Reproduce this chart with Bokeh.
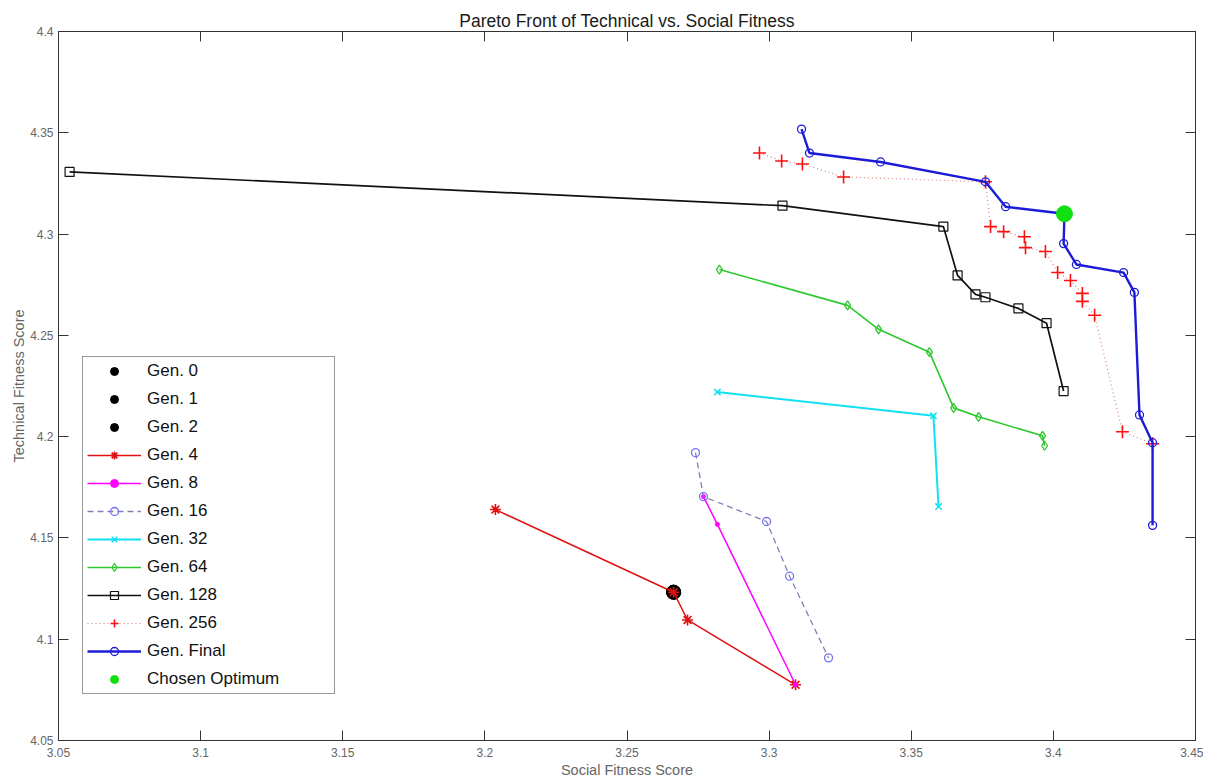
from bokeh.plotting import figure
from bokeh.models import Range1d, LinearAxis, FixedTicker, CustomJSTickFormatter
from bokeh.embed import file_html
from bokeh.resources import INLINE

# ---- axis ticks ----
x_ticks = [3.05, 3.1, 3.15, 3.2, 3.25, 3.3, 3.35, 3.4, 3.45]
x_tick_labels = ["3.05", "3.1", "3.15", "3.2", "3.25", "3.3", "3.35", "3.4", "3.45"]
y_ticks = [4.05, 4.1, 4.15, 4.2, 4.25, 4.3, 4.35, 4.4]
y_tick_labels = ["4.05", "4.1", "4.15", "4.2", "4.25", "4.3", "4.35", "4.4"]

# ---- series (social fitness x, technical fitness y) ----
gen0_x = [3.2664]; gen0_y = [4.1232]
gen1_x = [3.2664]; gen1_y = [4.1232]
gen2_x = [3.2664]; gen2_y = [4.1232]

gen4_x = [3.2037, 3.2664, 3.2713, 3.3093]
gen4_y = [4.1640, 4.1232, 4.1095, 4.0775]

gen8_x = [3.2769, 3.2818, 3.3093]
gen8_y = [4.1704, 4.1567, 4.0775]

gen16_x = [3.2741, 3.2769, 3.2991, 3.3072, 3.3209]
gen16_y = [4.1921, 4.1704, 4.1581, 4.1311, 4.0908]

gen32_x = [3.2818, 3.3578, 3.3596]
gen32_y = [4.2220, 4.2103, 4.1655]

gen64_x = [3.2825, 3.3276, 3.3385, 3.3564, 3.3649, 3.3737, 3.3962, 3.3969]
gen64_y = [4.2825, 4.2648, 4.2530, 4.2417, 4.2142, 4.2098, 4.2004, 4.1955]

gen128_x = [3.0539, 3.3047, 3.3613, 3.3663, 3.3726, 3.3761, 3.3877, 3.3976, 3.4036]
gen128_y = [4.3307, 4.3140, 4.3037, 4.2796, 4.2702, 4.2688, 4.2633, 4.2560, 4.2225]

gen256_x = [3.2966, 3.3044, 3.3117, 3.3262, 3.3761, 3.3779, 3.3825, 3.3898, 3.3902,
            3.3972, 3.4015, 3.4060, 3.4102, 3.4102, 3.4145, 3.4243, 3.4349]
gen256_y = [4.3400, 4.3361, 4.3346, 4.3282, 4.3258, 4.3037, 4.3012, 4.2987, 4.2933,
            4.2914, 4.2810, 4.2771, 4.2707, 4.2668, 4.2599, 4.2024, 4.1965]

final_x = [3.3114, 3.3142, 3.3392, 3.3761, 3.3832, 3.4039, 3.4036, 3.4081, 3.4247,
           3.4285, 3.4303, 3.4349, 3.4349]
final_y = [4.3518, 4.3400, 4.3356, 4.3258, 4.3135, 4.3100, 4.2953, 4.2850, 4.2810,
           4.2712, 4.2107, 4.1970, 4.1562]

chosen_x = [3.4039]; chosen_y = [4.3100]

FONT = "Liberation Sans"

p = figure(width=1203, height=780,
           x_range=Range1d(3.05, 3.45), y_range=Range1d(4.05, 4.4),
           output_backend="svg", toolbar_location=None,
           min_border_left=58, min_border_top=31, min_border_right=8, min_border_bottom=37,
           title="Pareto Front of Technical vs. Social Fitness")

p.title.align = "center"
p.title.text_font = FONT
p.title.text_font_size = "17.5px"
p.title.text_font_style = "normal"
p.title.text_color = "#1a1a1a"
p.title.standoff = 2

p.grid.visible = False
p.outline_line_color = "#333333"
p.background_fill_color = "white"
p.border_fill_color = "white"

for ax, ticks, labels, name in ((p.xaxis[0], x_ticks, x_tick_labels, "Social Fitness Score"),
                                (p.yaxis[0], y_ticks, y_tick_labels, "Technical Fitness Score")):
    ax.ticker = FixedTicker(ticks=ticks)
    ax.major_label_overrides = dict(zip(ticks, labels))
    ax.major_tick_in = 10
    ax.major_tick_out = 0
    ax.minor_tick_in = 0
    ax.minor_tick_out = 0
    ax.axis_line_color = "#333333"
    ax.major_tick_line_color = "#333333"
    ax.major_label_text_font = FONT
    ax.major_label_text_font_size = "12px"
    ax.major_label_text_color = "#666666"
    ax.axis_label = name
    ax.axis_label_text_font = FONT
    ax.axis_label_text_font_size = "14.5px"
    ax.axis_label_text_font_style = "normal"
    ax.axis_label_text_color = "#666666"

p.xaxis.major_label_standoff = 7
p.xaxis.axis_label_standoff = 2
p.yaxis.major_label_standoff = 5
p.yaxis.axis_label_standoff = 0

blank = CustomJSTickFormatter(code="return ''")
p.add_layout(LinearAxis(ticker=FixedTicker(ticks=y_ticks), formatter=blank,
                        major_tick_in=10, major_tick_out=0, minor_tick_in=0, minor_tick_out=0,
                        axis_line_color="#333333", major_tick_line_color="#333333",
                        major_label_standoff=0), "right")
p.add_layout(LinearAxis(ticker=FixedTicker(ticks=x_ticks), formatter=blank,
                        major_tick_in=10, major_tick_out=0, minor_tick_in=0, minor_tick_out=0,
                        axis_line_color="#333333", major_tick_line_color="#333333",
                        major_label_standoff=0), "above")

# Gen 0 / 1 / 2 (same point)
p.scatter(gen0_x, gen0_y, marker="circle", size=14, fill_color="black", line_color="black", legend_label="Gen. 0")
p.scatter(gen1_x, gen1_y, marker="circle", size=14, fill_color="black", line_color="black", legend_label="Gen. 1")
p.scatter(gen2_x, gen2_y, marker="circle", size=14, fill_color="black", line_color="black", legend_label="Gen. 2")

# Gen 4
c4 = "#e01010"
p.line(gen4_x, gen4_y, line_color=c4, line_width=1.5, legend_label="Gen. 4")
p.scatter(gen4_x, gen4_y, marker="asterisk", size=11, line_color=c4, line_width=1.6, legend_label="Gen. 4")

# Gen 8
c8 = "#ff00ff"
p.line(gen8_x, gen8_y, line_color=c8, line_width=1.5, legend_label="Gen. 8")
p.scatter(gen8_x, gen8_y, marker="circle", size=4, fill_color=c8, line_color=c8, legend_label="Gen. 8")

# Gen 16
c16 = "#7676f0"
p.line(gen16_x, gen16_y, line_color="#8080b8", line_width=1.3, line_dash="6 4", legend_label="Gen. 16")
p.scatter(gen16_x, gen16_y, marker="circle", size=8, fill_color=None, line_color=c16, line_width=1.3, legend_label="Gen. 16")

# Gen 32
c32 = "#10e0f0"
p.line(gen32_x, gen32_y, line_color=c32, line_width=2, legend_label="Gen. 32")
p.scatter(gen32_x, gen32_y, marker="x", size=9, line_color=c32, line_width=1.5, legend_label="Gen. 32")

# Gen 64
c64 = "#2ec82e"
p.line(gen64_x, gen64_y, line_color=c64, line_width=1.6, legend_label="Gen. 64")
p.scatter(gen64_x, gen64_y, marker="diamond", size=9, fill_color=None, line_color=c64, line_width=1.3, legend_label="Gen. 64")

# Gen 128
c128 = "#111111"
p.line(gen128_x, gen128_y, line_color=c128, line_width=1.7, legend_label="Gen. 128")
p.scatter(gen128_x, gen128_y, marker="square", size=9, fill_color=None, line_color=c128, line_width=1.2, legend_label="Gen. 128")

# Gen 256
c256 = "#ff1010"
p.line(gen256_x, gen256_y, line_color="#d88080", line_width=1.2, line_dash="1 3", legend_label="Gen. 256")
p.scatter(gen256_x, gen256_y, marker="cross", size=13, line_color=c256, line_width=1.6, legend_label="Gen. 256")

# Gen Final
cf = "#1c1cd8"
p.line(final_x, final_y, line_color=cf, line_width=2.4, legend_label="Gen. Final")
p.scatter(final_x, final_y, marker="circle", size=8, fill_color=None, line_color=cf, line_width=1.3, legend_label="Gen. Final")

# Chosen optimum
p.scatter(chosen_x, chosen_y, marker="circle", size=16, fill_color="#10e010", line_color="#10e010", legend_label="Chosen Optimum")

lg = p.legend[0]
lg.location = (24, 46)
lg.label_text_font = FONT
lg.label_text_font_size = "17px"
lg.label_text_color = "#111111"
lg.glyph_width = 54
lg.glyph_height = 20
lg.label_height = 20
lg.label_width = 183
lg.label_standoff = 6
lg.spacing = 8
lg.padding = 4
lg.margin = 0
lg.border_line_color = "#333333"
lg.border_line_width = 1
lg.background_fill_color = "white"
lg.background_fill_alpha = 1

open("out.html", "w").write(file_html(p, INLINE))
